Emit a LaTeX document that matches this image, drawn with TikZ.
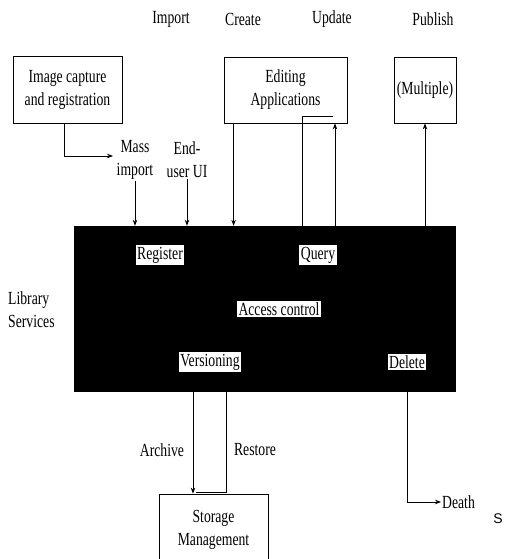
\documentclass[tikz,border=0pt]{standalone}
\usepackage{fontspec}
\setmainfont{Liberation Serif}[FakeStretch=0.74]
\setsansfont{Liberation Sans}
\usetikzlibrary{arrows.meta}
\tikzset{
  txt/.style={font=\fontsize{18.5}{23}\selectfont, inner sep=1pt, align=center},
  box/.style={draw, line width=0.8pt, txt},
  tag/.style={fill=white, inner xsep=1.5pt, inner ysep=1.5pt, font=\fontsize{18.5}{23}\selectfont},
  conn/.style={line width=0.8pt},
  arr/.style={conn, -{Stealth[length=6pt,width=4.5pt]}},
}
\begin{document}
\begin{tikzpicture}[x=1pt,y=-1pt]
\useasboundingbox (0,0) rectangle (511,559);

% stage headings
\node[txt] (himport)  at (171,19) {Import};
\node[txt] (hcreate)  at (243,19) {Create};
\node[txt] (hupdate)  at (332,19) {Update};
\node[txt] (hpublish) at (433,19) {Publish};

% outer boxes
\node[box, minimum width=109pt, minimum height=67pt] (capture) at (67.5,89.5)
  {Image capture\\and registration};
\node[box, minimum width=123pt, minimum height=66pt] (editing) at (285.5,90)
  {Editing\\Applications};
\node[box, minimum width=62pt, minimum height=66pt] (multiple) at (425,90)
  {(Multiple)};
\node[box, minimum width=109pt, minimum height=72pt] (storage) at (213.5,530)
  {Storage\\Management};

% library services block
\node[fill=black, draw=black, minimum width=381pt, minimum height=165pt, inner sep=0pt]
  (lib) at (264.5,308.5) {};
\node[txt, align=left, anchor=west] (libname) at (7,310) {Library\\Services};
\node[tag] (register) at (160,255) {Register};
\node[tag] (query)    at (318,255) {Query};
\node[tag] (access)   at (279,309) {Access control};
\node[tag] (version)  at (210,362) {Versioning};
\node[tag] (delete)   at (407,362) {Delete};

% entry labels
\node[txt] (massimp) at (135,160) {Mass\\import};
\node[txt] (enduser) at (187,160) {End-\\user UI};
\node[txt, anchor=west] (death) at (441,502) {Death};
\node[txt] (archive) at (162,450) {Archive};
\node[txt] (restore) at (255,450) {Restore};
\node[font=\sffamily\fontsize{14}{16}\selectfont, inner sep=1pt] (mark) at (498,519) {S};

% helper points
\coordinate (capout) at (64,0);
\coordinate (masstip) at (113,156);
\coordinate (qturn) at (302,116);
\coordinate (updx) at (335,0);
\coordinate (arcx) at (193,0);
\coordinate (resturn) at (226,492);

% import connectors
\draw[arr] (capout |- capture.south) |- (masstip);
\draw[arr] (massimp.south) -- (massimp.south |- lib.north);
\draw[arr] (enduser.south) -- (enduser.south |- lib.north);

% create / update / publish
\draw[arr] ([xshift=10pt]editing.south west) coordinate (cr) -- (cr |- lib.north);
\draw[conn] (qturn |- lib.north) -- (qturn) -- ++(31,0);
\draw[arr] (updx |- lib.north) -- (updx |- editing.south);
\draw[arr] (multiple.south |- lib.north) -- (multiple.south);

% archive / restore / delete
\draw[arr] (arcx |- lib.south) -- (arcx |- storage.north);
\draw[conn] (resturn |- lib.south) -- (resturn) -- ++(-30,0);
\draw[arr] (delete.south |- lib.south) |- (death.west);
\end{tikzpicture}
\end{document}
